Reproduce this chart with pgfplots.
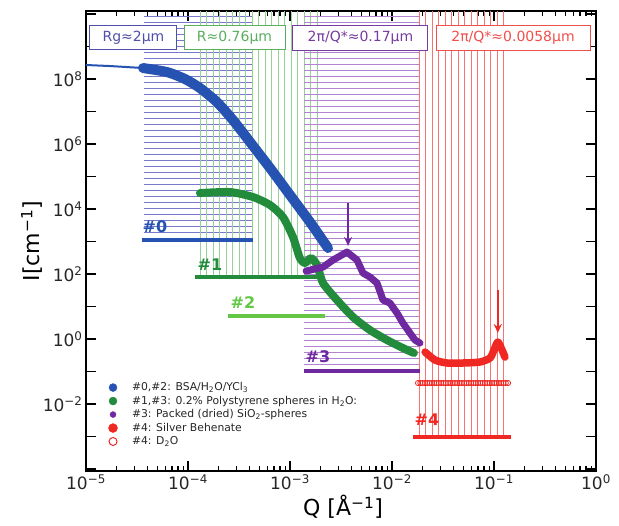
\documentclass[border=0pt]{standalone}
\usepackage{pgfplots}
\pgfplotsset{compat=1.18}
\usepackage{fontspec}
\setmainfont{DejaVu Sans}
\usetikzlibrary{arrows.meta}

\definecolor{cblue}{RGB}{38,82,178}
\definecolor{cgreen}{RGB}{35,140,60}
\definecolor{clgreen}{RGB}{100,200,70}
\definecolor{cpurple}{RGB}{110,40,160}
\definecolor{cred}{RGB}{240,40,35}
\definecolor{hblue}{RGB}{120,120,205}
\definecolor{hgreen}{RGB}{150,210,150}
\definecolor{hpurple}{RGB}{180,130,210}
\definecolor{hred}{RGB}{245,115,115}
\definecolor{bxblue}{RGB}{80,80,170}
\definecolor{bxgreen}{RGB}{90,175,95}
\definecolor{bxpurple}{RGB}{120,60,160}
\definecolor{bxred}{RGB}{240,80,75}

\pgfplotsset{
  legmark/.style={legend image code/.code={%
    \path[draw=none,fill=none] (0cm,0cm) -- (0.6cm,0cm);
    \draw[##1] plot[only marks] coordinates {(0.3cm,0cm)};}},
}

\begin{document}
\begin{tikzpicture}
\begin{axis}[
  scale only axis, width=510pt, height=460pt,
  xmode=log, ymode=log,
  xmin=1e-5, xmax=1, ymin=8.7e-5, ymax=1.24e10,
  xtick={1e-5,1e-4,1e-3,1e-2,1e-1,1},
  xticklabels={10\textsuperscript{−5},10\textsuperscript{−4},10\textsuperscript{−3},10\textsuperscript{−2},10\textsuperscript{−1},10\textsuperscript{0}},
  minor xtick={2e-5,3e-5,4e-5,5e-5,6e-5,7e-5,8e-5,9e-5,2e-4,3e-4,4e-4,5e-4,6e-4,7e-4,8e-4,9e-4,2e-3,3e-3,4e-3,5e-3,6e-3,7e-3,8e-3,9e-3,2e-2,3e-2,4e-2,5e-2,6e-2,7e-2,8e-2,9e-2,2e-1,3e-1,4e-1,5e-1,6e-1,7e-1,8e-1,9e-1},
  ytick={1e-4,1e-3,1e-2,1e-1,1e0,1e1,1e2,1e3,1e4,1e5,1e6,1e7,1e8,1e9,1e10},
  yticklabels={,,10\textsuperscript{−2},,10\textsuperscript{0},,10\textsuperscript{2},,10\textsuperscript{4},,10\textsuperscript{6},,10\textsuperscript{8},,},
  yminorticks=false,
  tick align=inside,
  major tick length=10pt, minor tick length=5pt,
  every tick/.style={black, line width=1.5pt},
  axis line style={line width=2.2pt},
  tick label style={font=\fontsize{17}{20}\selectfont, text=black!85},
  xlabel={Q [Å\textsuperscript{−1}]},
  ylabel={I[cm\textsuperscript{−1}]},
  label style={font=\fontsize{22}{26}\selectfont},
  xlabel style={at={(axis description cs:0.504,-0.078)}, anchor=center},
  ylabel style={at={(axis description cs:-0.106,0.5)}, anchor=center},
  legend style={at={(axis description cs:0.030,0.200)}, anchor=north west, draw=none, fill=none,
    font=\fontsize{10.8}{12.5}\selectfont, text=black!85, row sep=0.8pt, column sep=9pt, nodes={inner sep=1.5pt}},
  legend cell align=left,
]
% legend
\addlegendimage{legmark, mark=*, mark size=4pt, color=cblue}
\addlegendentry{\#0,\#2: BSA/H\textsubscript{2}O/YCl\textsubscript{3}}
\addlegendimage{legmark, mark=*, mark size=4pt, color=cgreen}
\addlegendentry{\#1,\#3: 0.2\% Polystyrene spheres in H\textsubscript{2}O:}
\addlegendimage{legmark, mark=*, mark size=3pt, color=cpurple}
\addlegendentry{\#3: Packed (dried) SiO\textsubscript{2}-spheres}
\addlegendimage{legmark, mark=*, mark size=4.5pt, color=cred}
\addlegendentry{\#4: Silver Behenate}
\addlegendimage{legmark, mark=o, mark size=4pt, color=cred, mark options={fill=white, line width=1pt}}
\addlegendentry{\#4: D\textsubscript{2}O}

% hatched Q-ranges of the four set-ups
\pgfplotsinvokeforeach{0,...,37}{
  \draw[hblue, line width=0.7pt] (axis description cs:0.1137,{0.5065+#1*0.01304}) -- (axis description cs:0.3255,{0.5065+#1*0.01304});
}
\pgfplotsinvokeforeach{0,...,18}{
  \draw[hgreen, line width=0.7pt] (axis description cs:{0.2235+#1*0.01275},0.4217) -- (axis description cs:{0.2235+#1*0.01275},1);
}
\pgfplotsinvokeforeach{0,...,59}{
  \draw[hpurple, line width=0.7pt] (axis description cs:0.4275,{0.2196+#1*0.01304}) -- (axis description cs:0.6549,{0.2196+#1*0.01304});
}
\pgfplotsinvokeforeach{0,...,13}{
  \draw[hred, line width=0.7pt] (axis description cs:{0.6529+#1*0.01275},0.0761) -- (axis description cs:{0.6529+#1*0.01275},1);
}

% range bars
\addplot[cblue, line width=4pt] coordinates {(3.54e-5,1.11e3) (4.34e-4,1.11e3)};
\addplot[cgreen, line width=4pt] coordinates {(1.17e-4,80.9) (1.88e-3,80.9)};
\addplot[clgreen, line width=4pt] coordinates {(2.47e-4,5.1) (2.2e-3,5.1)};
\addplot[cpurple, line width=4pt] coordinates {(1.37e-3,0.104) (1.88e-2,0.104)};
\addplot[cred, line width=4pt] coordinates {(1.61e-2,9.7e-4) (0.147,9.7e-4)};

% data
\addplot[cblue, line width=2pt] coordinates {(1e-5,2.70e8) (1.72e-5,2.51e8) (3.62e-5,2.18e8)};
\addplot[cblue, line width=10pt, line cap=round, line join=round, smooth, tension=0.4] coordinates {
 (3.62e-5,2.18e8) (6.22e-5,1.64e8) (9.35e-5,1.0e8) (1.31e-4,5.28e7) (1.92e-4,1.96e7)
 (2.76e-4,5.47e6) (4.06e-4,1.15e6) (6.37e-4,1.83e5) (1.0e-3,2.70e4) (1.57e-3,3.98e3) (2.36e-3,6.31e2)};
\addplot[cgreen, line width=8pt, line cap=round, line join=round, smooth, tension=0.4] coordinates {
 (1.31e-4,3.10e4) (2.58e-4,3.33e4) (4.34e-4,2.34e4) (6.37e-4,1.33e4) (8.53e-4,5.68e3)
 (1.07e-3,1.37e3) (1.25e-3,3.10e2) (1.40e-3,2.18e2) (1.61e-3,3.10e2) (1.84e-3,1.89e2)
 (2.11e-3,52.8) (2.89e-3,15.8) (4.15e-3,4.75) (6.08e-3,1.89) (8.93e-3,0.931) (1.28e-2,0.528) (1.64e-2,0.371)};
\addplot[cpurple, line width=7pt, line cap=round, line join=round] coordinates {
 (1.44e-3,124) (2.11e-3,164) (2.64e-3,270) (3.62e-3,475) (4.54e-3,270) (5.20e-3,107)
 (6.08e-3,80.9) (7.13e-3,52.8) (8.17e-3,15.8) (9.55e-3,12.8) (1.12e-2,6.31) (1.28e-2,3.10)
 (1.50e-2,1.53) (1.68e-2,0.931) (1.88e-2,0.753)};
\addplot[cred, line width=7.5pt, line cap=round, line join=round, smooth, tension=0.4] coordinates {
 (2.11e-2,0.398) (2.64e-2,0.226) (3.46e-2,0.183) (4.97e-2,0.183) (7.29e-2,0.196)
 (9.14e-2,0.260) (0.1,0.459) (0.109,0.809) (0.120,0.459) (0.128,0.279)};
\addplot[cred, only marks, mark=o, mark size=2.6pt, mark options={fill=white, line width=0.8pt}] coordinates {
 (0.01800,0.0443) (0.01896,0.0443) (0.01998,0.0443) (0.02105,0.0443) (0.02217,0.0443)
 (0.02336,0.0443) (0.02461,0.0443) (0.02593,0.0443) (0.02731,0.0443) (0.02877,0.0443)
 (0.03031,0.0443) (0.03194,0.0443) (0.03364,0.0443) (0.03544,0.0443) (0.03734,0.0443)
 (0.03934,0.0443) (0.04144,0.0443) (0.04366,0.0443) (0.04600,0.0443) (0.04846,0.0443)
 (0.05105,0.0443) (0.05378,0.0443) (0.05666,0.0443) (0.05969,0.0443) (0.06289,0.0443)
 (0.06625,0.0443) (0.06980,0.0443) (0.07353,0.0443) (0.07747,0.0443) (0.08161,0.0443)
 (0.08598,0.0443) (0.09058,0.0443) (0.09543,0.0443) (0.10053,0.0443) (0.10591,0.0443)
 (0.11158,0.0443) (0.11755,0.0443) (0.12384,0.0443) (0.13046,0.0443) (0.13744,0.0443)};

% arrows
\draw[cpurple, line width=2pt, -{Stealth[length=9pt,width=8pt]}] (axis cs:3.71e-3,1.53e4) -- (axis cs:3.71e-3,7.3e2);
\draw[cred, line width=2pt, -{Stealth[length=9pt,width=8pt]}] (axis cs:0.109,32.2) -- (axis cs:0.109,1.53);

% range labels
\node[text=cblue, font=\fontsize{16}{18}\selectfont\bfseries] at (axis cs:4.74e-5,2.79e3) {\#0};
\node[text=cgreen, font=\fontsize{16}{18}\selectfont\bfseries] at (axis cs:1.64e-4,189) {\#1};
\node[text=clgreen, font=\fontsize{16}{18}\selectfont\bfseries] at (axis cs:3.46e-4,13.7) {\#2};
\node[text=cpurple, font=\fontsize{16}{18}\selectfont\bfseries] at (axis cs:1.88e-3,0.279) {\#3};
\node[text=cred, font=\fontsize{16}{18}\selectfont\bfseries] at (axis cs:2.20e-2,3.22e-3) {\#4};

% top boxes
\node[draw=bxblue, fill=white, line width=1pt, text=bxblue, minimum width=87pt, minimum height=24pt, inner sep=0pt, font=\fontsize{14}{16}\selectfont] at (axis description cs:0.0931,0.9413) {Rg≈2µm};
\node[draw=bxgreen, fill=white, line width=1pt, text=bxgreen, minimum width=101pt, minimum height=24pt, inner sep=0pt, font=\fontsize{14}{16}\selectfont] at (axis description cs:0.2912,0.9413) {R≈0.76µm};
\node[draw=bxpurple, fill=white, line width=1pt, text=bxpurple, minimum width=135pt, minimum height=25pt, inner sep=0pt, font=\fontsize{14}{16}\selectfont] at (axis description cs:0.5382,0.9413) {2π/Q*≈0.17µm};
\node[draw=bxred, fill=white, line width=1pt, text=bxred, minimum width=154pt, minimum height=25pt, inner sep=0pt, font=\fontsize{14}{16}\selectfont] at (axis description cs:0.8373,0.9413) {2π/Q*≈0.0058µm};
\end{axis}
\pgfresetboundingbox
\path[use as bounding box] ([xshift=-86pt,yshift=-55pt]current axis.south west) rectangle ([xshift=23pt,yshift=11pt]current axis.north east);
\end{tikzpicture}
\end{document}
